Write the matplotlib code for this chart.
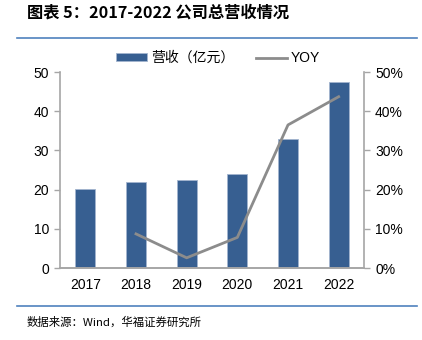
import matplotlib.pyplot as plt
from matplotlib.lines import Line2D

plt.rcParams['font.family'] = ['Liberation Sans', 'Noto Sans CJK SC', 'DejaVu Sans']

# Data
years = ['2017', '2018', '2019', '2020', '2021', '2022']
revenue = [20.1, 21.9, 22.4, 24.1, 33.0, 47.4]
yoy_years = ['2018', '2019', '2020', '2021', '2022']
yoy = [8.7, 2.6, 7.8, 36.5, 43.7]
left_ticks = [0, 10, 20, 30, 40, 50]
right_ticks = [0, 10, 20, 30, 40, 50]

bar_color = '#375F91'
line_color = '#8C8C8C'
axis_color = '#A6A6A6'
rule_color = '#4F81BD'

fig = plt.figure(figsize=(4.22, 3.4), dpi=100)

# Header / footer
fig.text(27 / 422, 1 - 13 / 340, '图表 5：2017-2022 公司总营收情况', fontsize=11.7,
         fontweight='bold', family=['Noto Sans CJK SC'], va='center', ha='left')
fig.add_artist(Line2D([17 / 422, 417 / 422], [1 - 38 / 340, 1 - 38 / 340],
                      color=rule_color, lw=1.2))
fig.add_artist(Line2D([17 / 422, 417 / 422], [1 - 306 / 340, 1 - 306 / 340],
                      color=rule_color, lw=1.2))
fig.text(27 / 422, 1 - 322 / 340, '数据来源：Wind，华福证券研究所', fontsize=8.2,
         family=['Noto Sans CJK SC'], va='center', ha='left')

ax = fig.add_axes([60 / 422, 1 - 268 / 340, 304 / 422, 196 / 340])
x = list(range(len(years)))
bars = ax.bar(x, revenue, width=0.4, color=bar_color, edgecolor='#A3B5CF',
              linewidth=0.6, label='营收（亿元）', zorder=2)
ax.set_xlim(-0.5, len(years) - 0.5)
ax.set_ylim(0, 50)
ax.set_yticks(left_ticks)
ax.set_xticks(x)
ax.set_xticklabels(years)

ax2 = ax.twinx()
yoy_x = [years.index(y) for y in yoy_years]
ln, = ax2.plot(yoy_x, yoy, color=line_color, lw=2, label='YOY', zorder=3)
ax2.set_ylim(0, 50)
ax2.set_yticks(right_ticks)
ax2.set_yticklabels([f'{v}%' for v in right_ticks])

for a in (ax, ax2):
    a.spines['top'].set_visible(False)
    for s in ('left', 'right', 'bottom'):
        a.spines[s].set_color(axis_color)
        a.spines[s].set_linewidth(1.2)
    a.tick_params(axis='y', colors=axis_color, labelcolor='black', labelsize=10,
                  length=4, width=1, direction='out', pad=4)
ax.spines['right'].set_visible(False)
ax2.spines['left'].set_visible(False)
ax.tick_params(axis='x', length=0, labelsize=10, pad=7)

ax.legend([bars, ln], ['营收（亿元）', 'YOY'], loc='center',
          bbox_to_anchor=(0.52, 1 + 14 / 196), ncol=2, frameon=False,
          handlelength=2.2, handleheight=0.45, columnspacing=1.6,
          handletextpad=0.3, borderpad=0,
          prop={'family': ['Liberation Sans', 'Noto Sans CJK SC'], 'size': 10})

fig.savefig('out.png', dpi=100)
